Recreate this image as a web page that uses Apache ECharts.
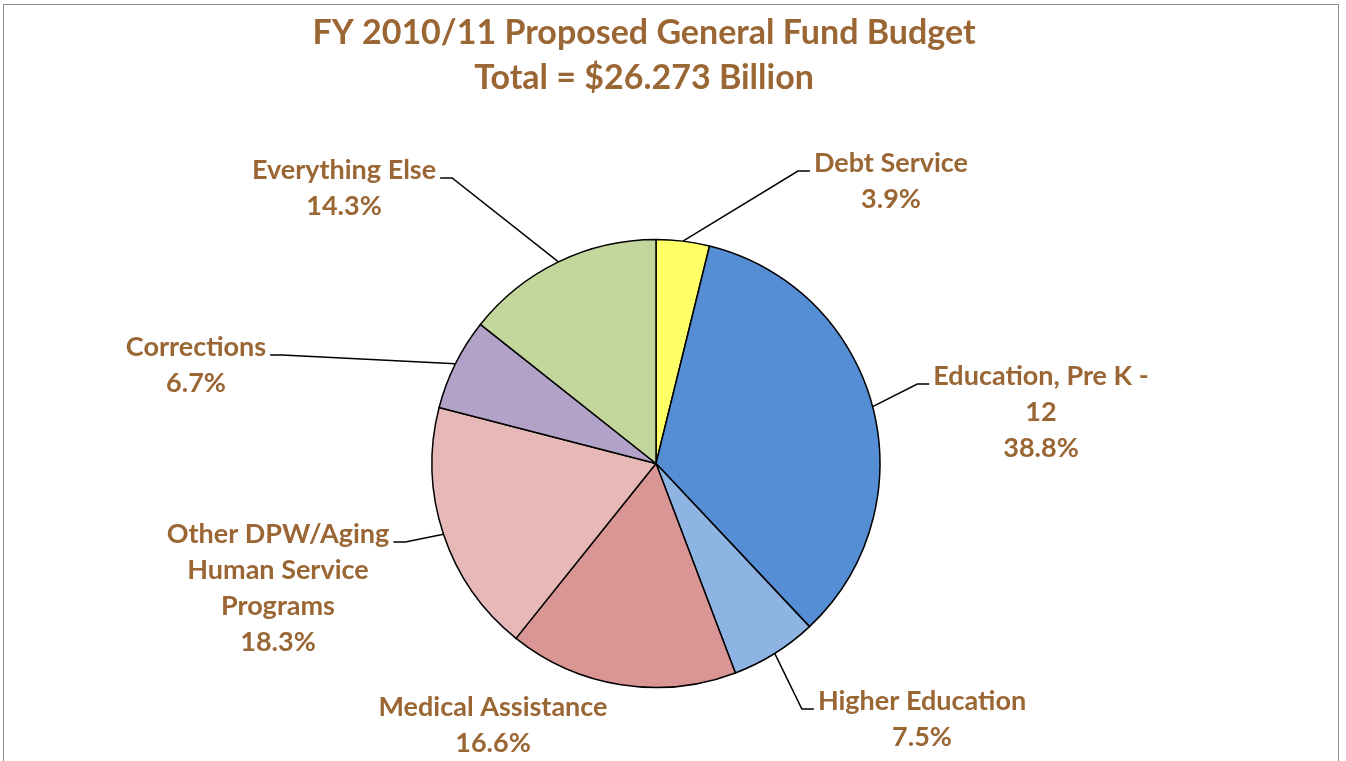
<!DOCTYPE html>
<html>
<head>
<meta charset="utf-8">
<script src="https://cdn.jsdelivr.net/npm/echarts@6/dist/echarts.min.js"></script>
<style>
  html, body { margin: 0; padding: 0; background: #fff; overflow: hidden; }
  #frame { position: absolute; left: 3px; top: 4px; width: 1336px; height: 800px; border: 1.5px solid #8c8c8c; box-sizing: border-box; }
  #chart { position: absolute; left: 0; top: 0; width: 1346px; height: 761px; }
</style>
</head>
<body>
<div id="frame"></div>
<div id="chart"></div>
<script>
// ---- data ----
const titleLines = ['FY 2010/11 Proposed General Fund Budget', 'Total = $26.273 Billion'];
const categories = ['Debt Service', 'Education, Pre K - 12', 'Higher Education', 'Medical Assistance', 'Other DPW/Aging Human Service Programs', 'Corrections', 'Everything Else'];
// label text lines as they wrap in the picture
const labelNames = ['Debt Service', 'Education, Pre K -\n12', 'Higher Education', 'Medical Assistance', 'Other DPW/Aging\nHuman Service\nPrograms', 'Corrections', 'Everything Else'];
// slice sizes (percent of circle)
const sliceValues = [3.84, 34.14, 6.25, 16.51, 18.27, 6.64, 14.34];
// percentages printed in the labels
const labelPercents = ['3.9%', '38.8%', '7.5%', '16.6%', '18.3%', '6.7%', '14.3%'];
const colors = ['#FFFF66', '#558ED5', '#8EB4E3', '#D99694', '#E6B9B8', '#B3A2C7', '#C3D69B'];

// ---- layout (label block centres) ----
const labelCentres = [[891, 181], [1041, 412], [922, 719], [493, 725], [278, 588], [196, 365], [344, 188]];
const showLine = [true, true, true, false, true, true, true];

const FONT = 'Lato, "Open Sans", sans-serif';
const BROWN = '#9A6634';
const LINE_H = 36;

const chart = echarts.init(document.getElementById('chart'), null, { renderer: 'canvas' });
chart.setOption({
  animation: false,
  graphic: [{
    type: 'text', x: 644, y: 56,
    style: {
      text: titleLines.join('\n'), fill: BROWN, textAlign: 'center', textVerticalAlign: 'middle',
      fontFamily: FONT, fontWeight: 'bold', fontSize: 34, lineHeight: 45
    }
  }],
  series: [{
    type: 'pie',
    center: [656, 463.5],
    radius: 224,
    startAngle: 90,
    clockwise: true,
    avoidLabelOverlap: false,
    itemStyle: { borderColor: '#000', borderWidth: 1.5 },
    label: {
      show: true, position: 'outside', color: BROWN, fontFamily: FONT, fontWeight: 'bold',
      fontSize: 27, lineHeight: LINE_H, align: 'center',
      formatter: p => labelNames[p.dataIndex] + '\n' + labelPercents[p.dataIndex]
    },
    labelLine: { show: true, length: 20, length2: 12, lineStyle: { color: '#000', width: 1.5 }, minTurnAngle: 0 },
    labelLayout: function (params) {
      const i = params.dataIndex;
      const c = labelCentres[i];
      const out = { x: c[0], y: c[1], align: 'center', verticalAlign: 'middle' };
      const pts = params.labelLinePoints;
      if (showLine[i] && pts && pts.length) {
        const p0 = pts[0];
        const w = params.labelRect.width, h = params.labelRect.height;
        const yEnd = c[1] - h / 2 + 26;
        const onRight = c[0] > p0[0];
        const xEnd = onRight ? c[0] - w / 2 - 4 : c[0] + w / 2 + 4;
        const xBend = onRight ? xEnd - 12 : xEnd + 12;
        out.labelLinePoints = [[p0[0], p0[1]], [xBend, yEnd], [xEnd, yEnd]];
      }
      return out;
    },
    emphasis: { disabled: true },
    data: categories.map((name, i) => ({
      name: name, value: sliceValues[i],
      itemStyle: { color: colors[i] },
      labelLine: { show: showLine[i] }
    }))
  }]
});
</script>
</body>
</html>
